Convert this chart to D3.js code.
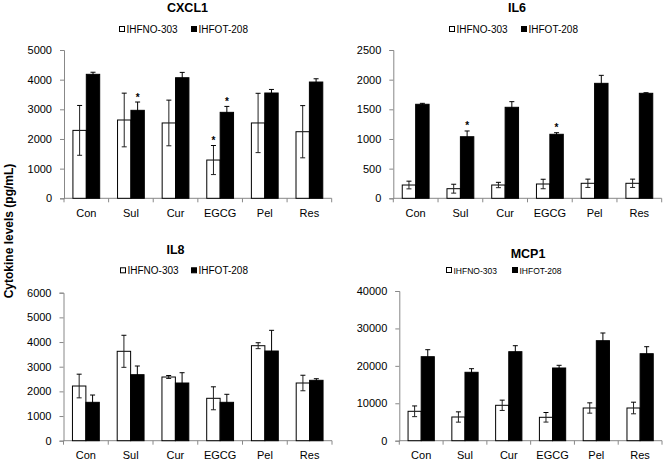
<!DOCTYPE html>
<html><head><meta charset="utf-8">
<script src="https://cdn.jsdelivr.net/npm/d3@7"></script>
<style>body{margin:0;background:#fff}svg{display:block;font-family:"Liberation Sans",Arial,sans-serif}</style>
</head><body><svg id="c" width="664" height="462"></svg>
<script>
const categories = ["Con","Sul","Cur","EGCG","Pel","Res"];
const seriesNames = ["IHFNO-303","IHFOT-208"];

const cxcl1_303 = [2290, 2640, 2540, 1290, 2540, 2245];
const cxcl1_303_err = [840, 905, 770, 490, 1000, 880];
const cxcl1_208 = [4180, 2966, 4065, 2898, 3550, 3920];
const cxcl1_208_err = [70, 280, 180, 200, 120, 110];
const cxcl1_ticks = [0, 1000, 2000, 3000, 4000, 5000];
const cxcl1_stars = [["Sul","IHFOT-208"],["EGCG","IHFNO-303"],["EGCG","IHFOT-208"]];

const il6_303 = [224, 162, 224, 241, 253, 253];
const il6_303_err = [65, 75, 45, 80, 70, 70];
const il6_208 = [1585, 1038, 1534, 1079, 1938, 1770];
const il6_208_err = [16, 97, 95, 27, 135, 10];
const il6_ticks = [0, 500, 1000, 1500, 2000, 2500];
const il6_stars = [["Sul","IHFOT-208"],["EGCG","IHFOT-208"]];

const il8_303 = [2217, 3624, 2582, 1719, 3851, 2339];
const il8_303_err = [480, 650, 60, 465, 120, 315];
const il8_208 = [1556, 2676, 2339, 1556, 3636, 2448];
const il8_208_err = [296, 352, 417, 325, 839, 65];
const il8_ticks = [0, 1000, 2000, 3000, 4000, 5000, 6000];
const il8_stars = [];

const mcp1_303 = [7856, 6333, 9459, 6253, 8738, 8738];
const mcp1_303_err = [1430, 1375, 1375, 1280, 1375, 1550];
const mcp1_208 = [22445, 18277, 23781, 19426, 26720, 23246];
const mcp1_208_err = [1871, 962, 1604, 721, 2058, 1872];
const mcp1_ticks = [0, 10000, 20000, 30000, 40000];
const mcp1_stars = [];

const panels = [
  {title:"CXCL1", a:cxcl1_303, ae:cxcl1_303_err, b:cxcl1_208, be:cxcl1_208_err, ticks:cxcl1_ticks, stars:cxcl1_stars,
   x0:64, x1:331.7, yT:50, yB:198.3, tx:187.5, ty:11.5, ly:29, lx1:119, lx2:191, lf:10},
  {title:"IL6", a:il6_303, ae:il6_303_err, b:il6_208, be:il6_208_err, ticks:il6_ticks, stars:il6_stars,
   x0:393.3, x1:661.7, yT:50, yB:198.3, tx:517, ty:11.5, ly:29, lx1:449, lx2:521, lf:10},
  {title:"IL8", a:il8_303, ae:il8_303_err, b:il8_208, be:il8_208_err, ticks:il8_ticks, stars:il8_stars,
   x0:63.5, x1:332, yT:292.7, yB:440.7, tx:175.5, ty:254, ly:270.3, lx1:120, lx2:191, lf:10},
  {title:"MCP1", a:mcp1_303, ae:mcp1_303_err, b:mcp1_208, be:mcp1_208_err, ticks:mcp1_ticks, stars:mcp1_stars,
   x0:399.3, x1:662, yT:291, yB:440.7, tx:528, ty:257.5, ly:270, lx1:446, lx2:512, lf:8.5}
];

const svg = d3.select("#c");
const axisColor = "#888";

panels.forEach(p => {
  const g = svg.append("g");
  const x = d3.scaleBand().domain(categories).range([p.x0, p.x1]).padding(0);
  const xs = d3.scaleBand().domain(seriesNames).range([0.2*x.bandwidth(), 0.8*x.bandwidth()]).padding(0);
  const y = d3.scaleLinear().domain([0, d3.max(p.ticks)]).range([p.yB, p.yT]);

  // title
  g.append("text").attr("x", p.tx).attr("y", p.ty).attr("text-anchor","middle")
    .attr("font-size", 12.5).attr("font-weight","bold").text(p.title);

  // legend
  [[p.lx1, "#fff", seriesNames[0]], [p.lx2, "#000", seriesNames[1]]].forEach(([lx, fill, name]) => {
    g.append("rect").attr("x", lx+0.5).attr("y", p.ly-2.5).attr("width", 5).attr("height", 5)
      .attr("fill", fill).attr("stroke","#000").attr("stroke-width",1);
    g.append("text").attr("x", lx+7.5).attr("y", p.ly+3.6).attr("font-size", p.lf).text(name);
  });

  // y axis
  const ya = g.append("g").attr("transform", `translate(${p.x0},0)`)
    .call(d3.axisLeft(y).tickValues(p.ticks).tickSize(4).tickPadding(8).tickFormat(d3.format("d")));
  ya.select(".domain").attr("stroke", axisColor);
  ya.selectAll(".tick line").attr("stroke", axisColor);
  ya.selectAll(".tick text").attr("font-size", 11).attr("fill","#000").attr("font-family","Liberation Sans, Arial, sans-serif");

  // x axis
  const boundaries = categories.map(c => x(c)).concat([p.x1]);
  g.append("line").attr("x1", p.x0).attr("x2", p.x1).attr("y1", p.yB).attr("y2", p.yB).attr("stroke", axisColor);
  g.selectAll(".xt").data(boundaries).enter().append("line")
    .attr("x1", d=>d).attr("x2", d=>d).attr("y1", p.yB).attr("y2", p.yB+4).attr("stroke", axisColor);
  g.selectAll(".xl").data(categories).enter().append("text")
    .attr("x", d => x(d) + x.bandwidth()/2).attr("y", p.yB + 18.7).attr("text-anchor","middle")
    .attr("font-size", 11).text(d=>d);

  const rows = categories.map((c,i) => [
    {c, s:seriesNames[0], v:p.a[i], e:p.ae[i], fill:"#fff"},
    {c, s:seriesNames[1], v:p.b[i], e:p.be[i], fill:"#000"}
  ]).flat();

  // bars
  g.selectAll(".bar").data(rows).enter().append("rect")
    .attr("x", d => x(d.c) + xs(d.s)).attr("width", xs.bandwidth())
    .attr("y", d => y(d.v)).attr("height", d => p.yB - y(d.v))
    .attr("fill", d=>d.fill).attr("stroke","#000").attr("stroke-width",1);

  // error bars
  const eb = g.selectAll(".eb").data(rows).enter().append("g")
    .attr("transform", d => `translate(${x(d.c) + xs(d.s) + xs.bandwidth()/2},0)`);
  eb.append("line").attr("x1",0).attr("x2",0).attr("y1", d=>y(d.v+d.e)).attr("y2", d=>y(d.v-d.e))
    .attr("stroke", d=> d.fill==="#000" ? "#000" : "#222").attr("stroke-width",1);
  eb.append("line").attr("x1",-2.5).attr("x2",2.5).attr("y1", d=>y(d.v+d.e)).attr("y2", d=>y(d.v+d.e))
    .attr("stroke","#000").attr("stroke-width",1);
  eb.filter(d=>d.fill!=="#000").append("line").attr("x1",-2.5).attr("x2",2.5)
    .attr("y1", d=>y(d.v-d.e)).attr("y2", d=>y(d.v-d.e)).attr("stroke","#222").attr("stroke-width",1);

  // significance stars
  p.stars.forEach(([c, s]) => {
    const r = rows.find(d => d.c===c && d.s===s);
    g.append("text").attr("x", x(c) + xs(s) + xs.bandwidth()/2).attr("y", y(r.v + r.e) - 1.5)
      .attr("text-anchor","middle").attr("font-size", 10).attr("font-weight","bold").text("*");
  });
});

// shared y label
svg.append("text").attr("transform","translate(12.5,231) rotate(-90)").attr("text-anchor","middle")
  .attr("font-size",12).attr("font-weight","bold").text("Cytokine levels (pg/mL)");
</script></body></html>
